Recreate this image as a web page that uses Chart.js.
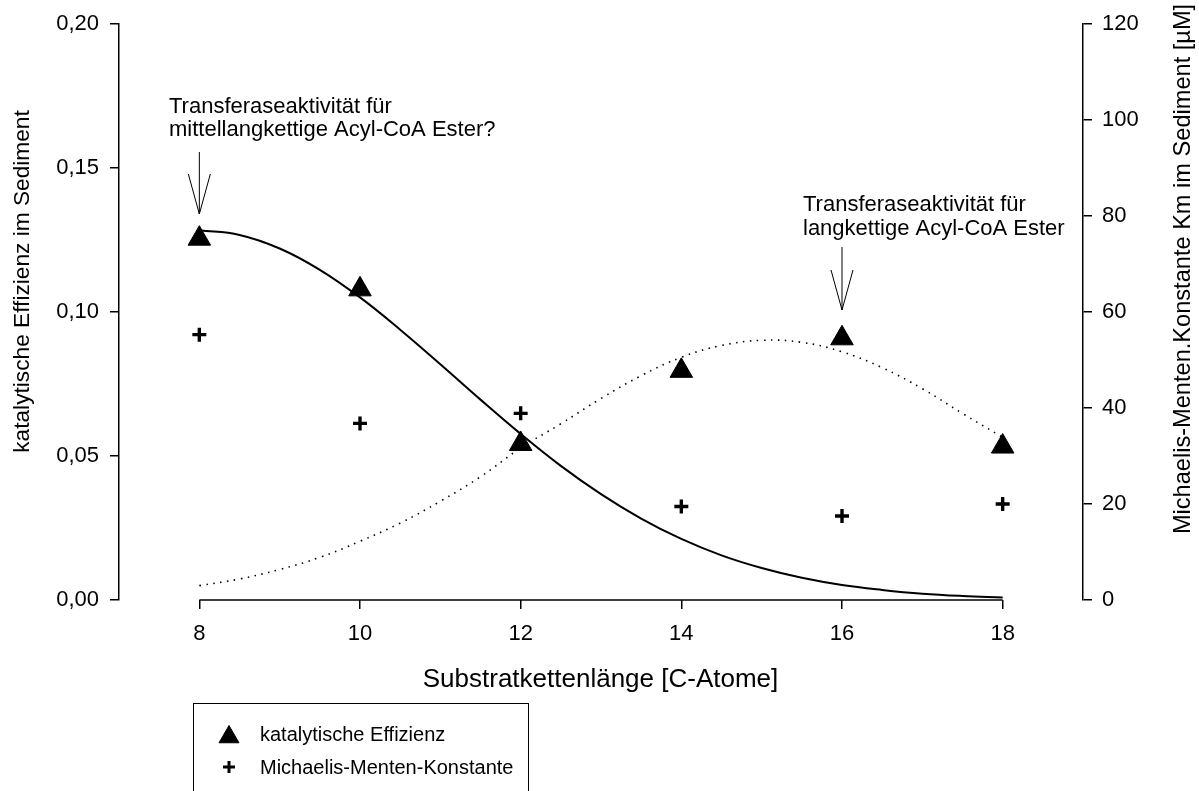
<!DOCTYPE html>
<html>
<head>
<meta charset="utf-8">
<script src="https://cdn.jsdelivr.net/npm/chart.js@4.4.1/dist/chart.umd.min.js"></script>
<style>
  html, body { margin: 0; padding: 0; background: #fff; }
  #wrap { width: 1199px; height: 791px; position: relative; }
</style>
</head>
<body>
<div id="wrap"><canvas id="chart" width="1199" height="791"></canvas></div>
<script>
// measured points
const chainLength = [8, 10, 12, 14, 16, 18];
const efficiency  = [0.1255, 0.1079, 0.0542, 0.0796, 0.0909, 0.0533];
const kmValues    = [55.3, 36.8, 38.9, 19.5, 17.5, 20.0];

// fitted curves, every half carbon
const fitX      = [8, 8.5, 9, 9.5, 10, 10.5, 11, 11.5, 12, 12.5, 13, 13.5, 14, 14.5, 15, 15.5, 16, 16.5, 17, 17.5, 18];
const fitMedium = [0.1284, 0.1268, 0.1221, 0.1147, 0.1051, 0.0939, 0.0819, 0.0696, 0.0577, 0.0466, 0.0368, 0.0283, 0.0212, 0.0155, 0.0111, 0.0077, 0.0052, 0.0035, 0.0022, 0.0014, 0.0009];
const fitLong   = [0.0050, 0.0073, 0.0106, 0.0148, 0.0204, 0.0267, 0.0343, 0.0428, 0.0528, 0.0612, 0.0700, 0.0779, 0.0843, 0.0884, 0.0902, 0.0895, 0.0862, 0.0807, 0.0734, 0.0648, 0.0565];

const xTicks     = [8, 10, 12, 14, 16, 18];
const leftTicks  = [0, 0.05, 0.10, 0.15, 0.20];
const rightTicks = [0, 20, 40, 60, 80, 100, 120];

const FONT = 'Liberation Sans, Arial, Helvetica, sans-serif';
Chart.defaults.font.family = FONT;
Chart.defaults.color = '#000';

const pts = (xs, ys) => xs.map((x, i) => ({ x, y: ys[i] }));

// axis titles, annotations, short x axis line and the boxed legend
const decor = {
  id: 'decor',
  afterDraw(chart) {
    const { ctx, chartArea: a, scales: { x } } = chart;
    ctx.save();
    ctx.strokeStyle = '#000';
    ctx.fillStyle = '#000';

    // x axis only spans first..last tick
    ctx.lineWidth = 1.5;
    ctx.beginPath();
    ctx.moveTo(x.getPixelForValue(xTicks[0]), a.bottom);
    ctx.lineTo(x.getPixelForValue(xTicks[xTicks.length - 1]), a.bottom);
    ctx.stroke();

    // titles
    ctx.textBaseline = 'alphabetic';
    ctx.textAlign = 'center';
    ctx.font = '26px ' + FONT;
    ctx.fillText('Substratkettenlänge [C-Atome]', 600.5, 687);

    ctx.save();
    ctx.translate(28.5, 281.5);
    ctx.rotate(-Math.PI / 2);
    ctx.font = '22.7px ' + FONT;
    ctx.fillText('katalytische Effizienz im Sediment', 0, 0);
    ctx.restore();

    ctx.save();
    ctx.translate(1190, 269);
    ctx.rotate(-Math.PI / 2);
    ctx.font = '23.6px ' + FONT;
    ctx.fillText('Michaelis-Menten.Konstante Km im Sediment [µM]', 0, 0);
    ctx.restore();

    // annotations
    ctx.textAlign = 'left';
    ctx.font = '22px ' + FONT;
    ctx.fillText('Transferaseaktivität für', 169, 112.5);
    ctx.fillText('mittellangkettige Acyl-CoA Ester?', 169, 136);
    ctx.fillText('Transferaseaktivität für', 803, 211);
    ctx.fillText('langkettige Acyl-CoA Ester', 803, 234.5);

    const arrow = (px, top, tip) => {
      ctx.lineWidth = 1;
      ctx.beginPath();
      ctx.moveTo(px, top); ctx.lineTo(px, tip);
      ctx.moveTo(px - 11, tip - 40); ctx.lineTo(px, tip); ctx.lineTo(px + 11, tip - 40);
      ctx.stroke();
    };
    arrow(x.getPixelForValue(8), 152, 214);
    arrow(x.getPixelForValue(16), 247, 310);

    // legend box
    ctx.lineWidth = 1;
    ctx.strokeRect(193.5, 703.5, 335, 120);
    const tri = chart.data.datasets[0], plus = chart.data.datasets[1];
    Chart.helpers.drawPoint(ctx, { pointStyle: tri.pointStyle, radius: 11.5, borderWidth: 1, rotation: 0 }, 229, 737);
    ctx.lineWidth = 3;
    Chart.helpers.drawPoint(ctx, { pointStyle: plus.pointStyle, radius: 6, borderWidth: 3.2, rotation: 0 }, 229, 767);
    ctx.font = '20px ' + FONT;
    ctx.fillText(tri.label, 260, 740.5);
    ctx.fillText(plus.label, 260, 774);

    ctx.restore();
  }
};

new Chart(document.getElementById('chart'), {
  type: 'scatter',
  data: {
    datasets: [
      {
        label: 'katalytische Effizienz',
        data: pts(chainLength, efficiency),
        yAxisID: 'y',
        pointStyle: 'triangle',
        pointRadius: 13,
        pointBackgroundColor: '#000',
        pointBorderColor: '#000',
        pointBorderWidth: 1,
        order: 1
      },
      {
        label: 'Michaelis-Menten-Konstante',
        data: pts(chainLength, kmValues),
        yAxisID: 'y1',
        pointStyle: 'cross',
        pointRadius: 7,
        pointBorderColor: '#000',
        pointBorderWidth: 3.4,
        order: 1
      },
      {
        label: 'Fit mittellangkettig',
        data: pts(fitX, fitMedium),
        yAxisID: 'y',
        showLine: true,
        borderColor: '#000',
        borderWidth: 2,
        pointRadius: 0,
        tension: 0.4,
        order: 2
      },
      {
        label: 'Fit langkettig',
        data: pts(fitX, fitLong),
        yAxisID: 'y',
        showLine: true,
        borderColor: '#000',
        borderWidth: 1.6,
        borderDash: [1.5, 5.5],
        pointRadius: 0,
        tension: 0.4,
        order: 2
      }
    ]
  },
  options: {
    responsive: false,
    animation: false,
    layout: { padding: { top: 22, left: 0, right: 0, bottom: 0 } },
    plugins: { legend: { display: false }, tooltip: { enabled: false } },
    scales: {
      x: {
        type: 'linear', min: 7, max: 19,
        border: { display: false },
        grid: { drawOnChartArea: false, drawTicks: true, tickLength: 9, color: '#000', lineWidth: 1.5 },
        ticks: { color: '#000', font: { size: 22 }, padding: 12, maxRotation: 0 },
        afterBuildTicks: s => { s.ticks = xTicks.map(v => ({ value: v })); },
        afterFit: s => { s.height = 191; }
      },
      y: {
        position: 'left', min: 0, max: 0.2,
        border: { display: true, color: '#000', width: 1.5 },
        grid: { drawOnChartArea: false, drawTicks: true, tickLength: 9, color: '#000', lineWidth: 1.5 },
        ticks: { color: '#000', font: { size: 22 }, padding: 11, callback: v => v.toFixed(2).replace('.', ',') },
        afterBuildTicks: s => { s.ticks = leftTicks.map(v => ({ value: v })); },
        afterFit: s => { s.width = 119; }
      },
      y1: {
        position: 'right', min: 0, max: 120,
        border: { display: true, color: '#000', width: 1.5 },
        grid: { drawOnChartArea: false, drawTicks: true, tickLength: 9, color: '#000', lineWidth: 1.5 },
        ticks: { color: '#000', font: { size: 22 }, padding: 10 },
        afterBuildTicks: s => { s.ticks = rightTicks.map(v => ({ value: v })); },
        afterFit: s => { s.width = 116; }
      }
    }
  },
  plugins: [decor]
});
</script>
</body>
</html>
